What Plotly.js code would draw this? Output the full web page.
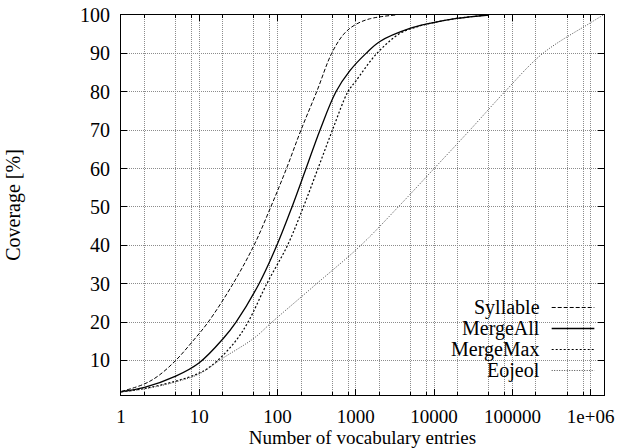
<!DOCTYPE html>
<html>
<head>
<meta charset="utf-8">
<script src="https://cdn.plot.ly/plotly-3.0.1.min.js"></script>
<style>html,body{margin:0;padding:0;background:#fff;}#chart{width:619px;height:448px;}</style>
</head>
<body>
<div id="chart"></div>
<script>
// ---- data ----
const seriesNames = ["Syllable", "MergeAll", "MergeMax", "Eojeol"];

const syllableX = [1, 2, 3, 5, 8, 13, 27, 50, 82, 130, 199, 316, 491, 700, 970, 1500, 3200];
const syllableY = [1.9, 3.9, 6.0, 10, 14.7, 20, 30, 40, 50, 60, 70, 80, 90, 95, 97.4, 99, 100];

const mergeAllX = [1, 2, 5, 10, 20, 29.5, 58, 98, 153, 231, 348, 557, 840, 1350, 2030, 4900, 8800, 19400, 50000];
const mergeAllY = [1.9, 3.0, 5.9, 9.4, 15.6, 20, 30, 40, 50, 60, 70, 80, 85.5, 90, 93.1, 96.5, 97.8, 99.1, 100];

const mergeMaxX = [1, 2, 5, 10, 14, 20, 30, 42, 73, 134, 214, 328, 502, 792, 1000, 1860, 3660, 6000, 8800, 19400, 50000];
const mergeMaxY = [1.8, 2.7, 4.6, 6.7, 8.5, 11.3, 15.4, 20, 30, 40, 50, 60, 70, 80, 82.8, 90, 95.2, 96.9, 97.8, 99.1, 100];

const eojeolX = [1, 2, 5, 10, 20, 50, 85, 316, 1160, 3480, 10000, 28600, 80000, 245000, 1000000, 1450000];
const eojeolY = [1.8, 2.6, 4.4, 6.5, 10.6, 15.8, 20, 30, 40, 50, 60, 70, 80, 90, 98, 100];

const xTickVals = [1, 10, 100, 1000, 10000, 100000, 1000000];
const xTickText = ["1", "10", "100", "1000", "10000", "100000", "1e+06"];
const xMinorVals = [2, 5, 8, 20, 50, 80, 200, 500, 800, 2000, 5000, 8000, 20000, 50000, 80000, 200000, 500000, 800000];
const yTickVals = [10, 20, 30, 40, 50, 60, 70, 80, 90, 100];
const yTickText = ["10", "20", "30", "40", "50", "60", "70", "80", "90", "100"];

const xTitle = "Number of vocabulary entries";
const yTitle = "Coverage [%]";

// ---- styles ----
const FONT = "Liberation Serif";
const styles = [
  {color: "#000000", width: 1, dash: "4px,2px"},
  {color: "#000000", width: 1.3, dash: "solid"},
  {color: "#000000", width: 1.2, dash: "2px,2px"},
  {color: "#4a4a4a", width: 1, dash: "1px,1.5px"}
];
const xs = [syllableX, mergeAllX, mergeMaxX, eojeolX];
const ys = [syllableY, mergeAllY, mergeMaxY, eojeolY];

const traces = seriesNames.map((n, i) => ({
  type: "scatter", mode: "lines", name: n, x: xs[i], y: ys[i],
  line: {color: styles[i].color, width: styles[i].width, dash: styles[i].dash, shape: "spline", smoothing: 1},
  showlegend: false, hoverinfo: "skip"
}));

// gnuplot-style key: right-aligned text, sample line to the right
const keyRowsY = [0.2303, 0.1750, 0.1197, 0.0645];
const annotations = seriesNames.map((n, i) => ({
  xref: "paper", yref: "paper", x: 0.8723, y: keyRowsY[i], xanchor: "right", yanchor: "middle",
  text: n, showarrow: false, font: {family: FONT, size: 20, color: "#000"}
}));
const shapes = seriesNames.map((n, i) => ({
  type: "line", xref: "paper", yref: "paper", x0: 0.8917, x1: 0.98, y0: keyRowsY[i], y1: keyRowsY[i],
  line: {color: styles[i].color, width: styles[i].width, dash: styles[i].dash}
}));

const gridColor = "#8c8c8c";
const gridDash = "1px,1px";
const layout = {
  width: 619, height: 448, autosize: false,
  margin: {l: 121, r: 15, t: 15, b: 53, pad: 0},
  paper_bgcolor: "#fff", plot_bgcolor: "#fff",
  showlegend: false,
  font: {family: FONT, size: 20, color: "#000"},
  xaxis: {
    type: "log", range: [0, Math.log10(1.48e6)],
    tickmode: "array", tickvals: xTickVals, ticktext: xTickText,
    ticks: "inside", ticklen: 6, tickwidth: 1, tickcolor: "#000",
    showline: true, linecolor: "#000", linewidth: 1, mirror: "allticks",
    showgrid: true, gridcolor: gridColor, gridwidth: 1, griddash: gridDash,
    minor: {tickmode: "array", tickvals: xMinorVals, ticks: "inside", ticklen: 3, tickcolor: "#000",
            showgrid: true, gridcolor: gridColor, gridwidth: 1, griddash: gridDash},
    zeroline: false, tickfont: {family: FONT, size: 19, color: "#000"},
    ticklabelstandoff: 4,
    title: {text: xTitle, font: {family: FONT, size: 19, color: "#000"}, standoff: 4}
  },
  yaxis: {
    range: [1, 100], tickmode: "array", tickvals: yTickVals, ticktext: yTickText,
    ticks: "inside", ticklen: 6, tickwidth: 1, tickcolor: "#000",
    showline: true, linecolor: "#000", linewidth: 1, mirror: "allticks",
    showgrid: true, gridcolor: gridColor, gridwidth: 1, griddash: gridDash,
    zeroline: false, tickfont: {family: FONT, size: 20, color: "#000"},
    ticklabelstandoff: 6,
    title: {text: yTitle, font: {family: FONT, size: 20, color: "#000"}, standoff: 54}
  },
  annotations: annotations,
  shapes: shapes
};

Plotly.newPlot("chart", traces, layout, {staticPlot: true, displayModeBar: false});
</script>
</body>
</html>
